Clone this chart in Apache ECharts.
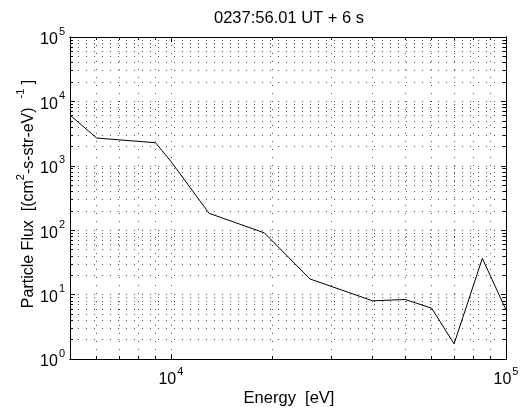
<!DOCTYPE html>
<html>
<head>
<meta charset="utf-8">
<script src="https://cdn.jsdelivr.net/npm/echarts@6/dist/echarts.min.js"></script>
<style>
html,body{margin:0;padding:0;background:#fff;}
#c{width:522px;height:415px;}
</style>
</head>
<body>
<div id="c"></div>
<script>
// ---- data ----
const energy = [5000, 6000, 9000, 10000, 13000, 19000, 26000, 40000, 50000, 60000, 70000, 85000, 100000];
const flux = [6150, 2700, 2280, 1170, 183, 91, 17.5, 8.0, 8.4, 6.15, 1.72, 36.6, 5.8];
const xMajorTicks = [10000, 100000];
const xMinorTicks = [6000, 7000, 8000, 9000, 10000, 20000, 30000, 40000, 50000, 60000, 70000, 80000, 90000];
const yMajorTicks = [1, 10, 100, 1000, 10000, 100000];
const yMinorTicks = [2,3,4,5,6,7,8,9,10,20,30,40,50,60,70,80,90,100,200,300,400,500,600,700,800,900,1000,
  2000,3000,4000,5000,6000,7000,8000,9000,10000,20000,30000,40000,50000,60000,70000,80000,90000];
const titleText = '0237:56.01 UT + 6 s';
const xName = 'Energy  [eV]';

const FONT = '"Liberation Sans", Arial, sans-serif';
const chart = echarts.init(document.getElementById('c'), null, {renderer: 'canvas'});

const powFmt = v => '{b|10}{s|' + Math.round(Math.log10(v)) + '}';
const rich = {
  b: {fontSize: 16, fontFamily: FONT, color: '#000', lineHeight: 22, verticalAlign: 'bottom'},
  s: {fontSize: 11, fontFamily: FONT, color: '#000', lineHeight: 22, verticalAlign: 'top', padding: [0,0,0,1]}
};
const axLine = {show: true, onZero: false, lineStyle: {color: '#000', width: 1}};
const grid = {left: 70, right: 16, top: 37, bottom: 56, show: false};
const gridLine = {show: true, lineStyle: {color: '#555', width: 1, type: [1, 7]}};

function xAx(pos, ticks, len, labels, split) {
  return {
    type: 'log', logBase: 10, min: 5000, max: 100000, position: pos,
    axisLine: axLine,
    axisTick: {show: true, inside: true, length: len, customValues: ticks, lineStyle: {color: '#000'}},
    axisLabel: labels ? {show: true, customValues: xMajorTicks, formatter: powFmt, rich: rich, margin: 7} : {show: false},
    splitLine: split ? gridLine : {show: false},
    minorTick: {show: false}, minorSplitLine: {show: false}
  };
}
function yAx(pos, ticks, len, labels, split) {
  return {
    type: 'log', logBase: 10, min: 1, max: 100000, position: pos,
    axisLine: axLine,
    axisTick: {show: true, inside: true, length: len, customValues: ticks, lineStyle: {color: '#000'}},
    axisLabel: labels ? {show: true, customValues: yMajorTicks, formatter: powFmt, rich: rich, margin: 5} : {show: false},
    splitLine: split ? gridLine : {show: false},
    minorTick: {show: false}, minorSplitLine: {show: false}
  };
}

chart.setOption({
  backgroundColor: '#fff',
  animation: false,
  grid: grid,
  xAxis: [
    xAx('bottom', xMajorTicks, 5, true, false),
    xAx('bottom', xMinorTicks, 3, false, true),
    xAx('top', xMajorTicks, 5, false, false),
    xAx('top', xMinorTicks, 3, false, false)
  ],
  yAxis: [
    yAx('left', yMajorTicks, 5, true, false),
    yAx('left', yMinorTicks, 3, false, true),
    yAx('right', yMajorTicks, 5, false, false),
    yAx('right', yMinorTicks, 3, false, false)
  ],
  graphic: [
    {
      type: 'text', x: 289, y: 18,
      style: {text: titleText, font: '16.5px ' + FONT, fill: '#000', align: 'center', verticalAlign: 'middle'}
    },
    {
      type: 'text', x: 289, y: 398,
      style: {text: xName, font: '16.5px ' + FONT, fill: '#000', align: 'center', verticalAlign: 'middle'}
    },
    {
      type: 'text', x: 26, y: 194, rotation: Math.PI / 2,
      style: {
        text: '{t|Particle Flux  [(cm}{u|2}{t|-s-str-eV)  }{u|-1}{t| ]}',
        align: 'center', verticalAlign: 'middle',
        rich: {
          t: {fontSize: 16, fontFamily: FONT, fill: '#000', lineHeight: 22, verticalAlign: 'bottom'},
          u: {fontSize: 11, fontFamily: FONT, fill: '#000', lineHeight: 22, verticalAlign: 'top'}
        }
      }
    }
  ],
  series: [{
    type: 'line', xAxisIndex: 0, yAxisIndex: 0,
    data: energy.map((e, i) => [e, flux[i]]),
    showSymbol: false, symbol: 'none',
    lineStyle: {color: '#000', width: 1},
    clip: true
  }]
});
</script>
</body>
</html>
